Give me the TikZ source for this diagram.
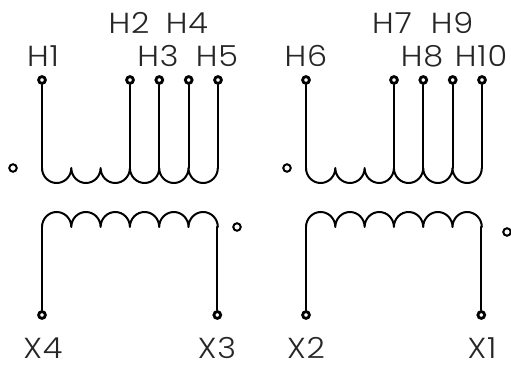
\documentclass[tikz,border=0pt]{standalone}
\usepackage{fontspec}
\setmainfont{Poppins Light}[FakeStretch=1.1,LetterSpace=3]
\tikzset{x=1pt,y=1pt,
 wire/.style={line width=2pt,black,line cap=round,line join=round},
 term/.style={circle,draw=black,line width=2.8pt,fill=white,inner sep=0pt,minimum size=6.8pt},
 pol/.style={circle,draw=black,line width=2pt,fill=white,inner sep=0pt,minimum size=7.5pt},
 lab/.style={inner sep=0pt,font=\fontsize{29}{29}\selectfont,text=black!85}}
\begin{document}
\begin{tikzpicture}
\useasboundingbox (0,0) rectangle (511,364);
\foreach \n/\ox in {L/0,R/264}{
 \begin{scope}[xshift=\ox pt]
 \coordinate (\n c0) at (42,196);
 \coordinate (\n c1) at (71.3,196);
 \coordinate (\n c2) at (100.7,196);
 \coordinate (\n c3) at (130,196);
 \coordinate (\n c4) at (159.3,196);
 \coordinate (\n c5) at (188.7,196);
 \coordinate (\n c6) at (218,196);
 \node[term] (\n t0) at (42,284) {};
 \node[term] (\n t3) at (130,284) {};
 \node[term] (\n t4) at (159.3,284) {};
 \node[term] (\n t5) at (188.7,284) {};
 \node[term] (\n t6) at (218,284) {};
 \foreach \i in {0,3,4,5,6}{\draw[wire] (\n t\i) -- (\n c\i);}
 \draw[wire] (\n c0) arc[start angle=180,end angle=360,x radius=14.65,y radius=15]
   arc[start angle=180,end angle=360,x radius=14.65,y radius=15]
   arc[start angle=180,end angle=360,x radius=14.65,y radius=15]
   arc[start angle=180,end angle=360,x radius=14.65,y radius=15]
   arc[start angle=180,end angle=360,x radius=14.65,y radius=15]
   arc[start angle=180,end angle=360,x radius=14.65,y radius=15];
 \coordinate (\n d0) at (42,137);
 \coordinate (\n d6) at (217.3,137);
 \node[term] (\n b0) at (42,49) {};
 \node[term] (\n b6) at (217.3,49) {};
 \draw[wire] (\n b0) -- (\n d0);
 \draw[wire] (\n b6) -- (\n d6);
 \draw[wire] (\n d0) arc[start angle=180,end angle=0,x radius=14.65,y radius=15]
   arc[start angle=180,end angle=0,x radius=14.65,y radius=15]
   arc[start angle=180,end angle=0,x radius=14.65,y radius=15]
   arc[start angle=180,end angle=0,x radius=14.65,y radius=15]
   arc[start angle=180,end angle=0,x radius=14.65,y radius=15]
   arc[start angle=180,end angle=0,x radius=14.65,y radius=15];
 \end{scope}}
\node[pol] (p1) at (13,196) {};
\node[pol] (p2) at (287,196) {};
\node[pol] (p3) at (237,137) {};
\node[pol] (p4) at (507,132) {};
\node[lab] (H1) at (43,308) {H1};
\node[lab] (H2) at (129,341) {H2};
\node[lab] (H3) at (158,308) {H3};
\node[lab] (H4) at (187,341) {H4};
\node[lab] (H5) at (217,308) {H5};
\node[lab] (H6) at (306,308) {H6};
\node[lab] (H7) at (392,341) {H7};
\node[lab] (H8) at (422,308) {H8};
\node[lab] (H9) at (452,341) {H9};
\node[lab] (H10) at (481,308) {H10};
\node[lab] (X4) at (43,16) {X4};
\node[lab] (X3) at (217,16) {X3};
\node[lab] (X2) at (306,16) {X2};
\node[lab] (X1) at (482,16) {X1};
\end{tikzpicture}
\end{document}
